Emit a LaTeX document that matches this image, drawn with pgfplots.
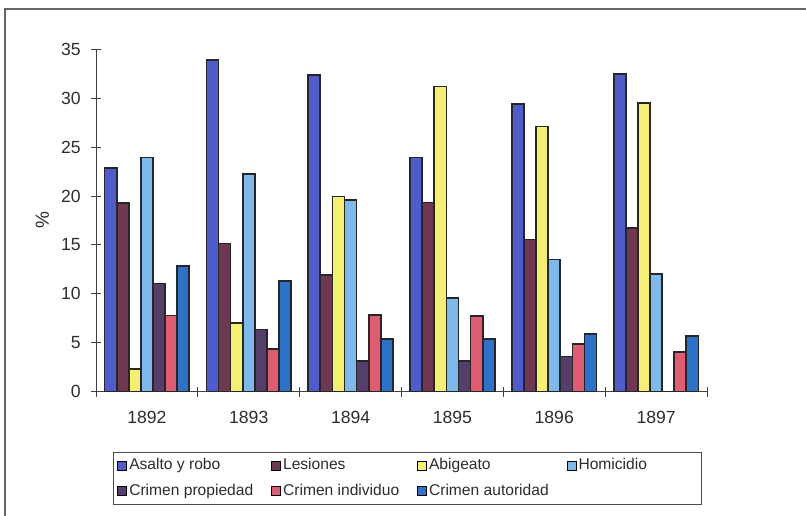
\documentclass[border=0pt]{standalone}
\usepackage{fontspec}
\setmainfont{Liberation Sans}
\usepackage{pgfplots}
\usepackage{pgfplotstable}
\pgfplotsset{compat=1.18}

\definecolor{cAsalto}{RGB}{78,92,205}
\definecolor{cLesiones}{RGB}{112,55,80}
\definecolor{cAbigeato}{RGB}{246,240,112}
\definecolor{cHomicidio}{RGB}{125,185,235}
\definecolor{cPropiedad}{RGB}{86,62,106}
\definecolor{cIndividuo}{RGB}{225,92,112}
\definecolor{cAutoridad}{RGB}{42,115,200}
\definecolor{cText}{RGB}{45,45,45}

% Porcentaje de cada tipo de delito por año (x = 0..5 -> 1892..1897)
\pgfplotstableread{
x asalto lesiones abigeato homicidio propiedad individuo autoridad
0 22.9  19.3  2.3   23.95 11.05 7.8  12.85
1 33.9  15.15 7.0   22.25 6.35  4.35 11.3
2 32.4  11.9  19.95 19.6  3.15  7.85 5.4
3 23.95 19.35 31.2  9.55  3.15  7.75 5.4
4 29.4  15.55 27.1  13.5  3.6   4.85 5.9
5 32.5  16.7  29.5  12.0  0     4.05 5.7
}\datos

\begin{document}
\begin{tikzpicture}
\useasboundingbox (-48pt,-61.65pt) rectangle (355pt,195.85pt);
% marco exterior del gráfico
\draw[black!60, line width=0.75pt] (-45.5pt,-62pt) -- (-45.5pt,191.35pt) -- (356pt,191.35pt);
\begin{axis}[
  at={(0pt,0pt)}, anchor=south west,
  scale only axis, width=305.5pt, height=171.2pt,
  xmin=-0.5, xmax=5.5, ymin=0, ymax=35,
  ybar=0pt, bar width=6.05pt,
  axis x line=bottom, axis y line=left,
  axis line style={-, black!75, line width=0.5pt},
  xtick={0,1,2,3,4,5},
  xticklabels={1892,1893,1894,1895,1896,1897},
  major x tick style={draw=none},
  minor xtick={-0.5,0.5,1.5,2.5,3.5,4.5,5.5},
  ytick={0,5,10,15,20,25,30,35},
  tick align=center, major tick length=5pt, minor tick length=5pt,
  tick style={black!75, line width=0.5pt},
  tick label style={font=\fontsize{8.8}{10}\selectfont, text=cText},
  xticklabel style={yshift=-3.5pt},
  yticklabel style={xshift=-1.6pt},
  /pgf/number format/assume math mode=true,
  ylabel={\%},
  ylabel style={at={(axis description cs:-0.088,0.5)}, anchor=center,
                font=\fontsize{9.5}{10}\selectfont, text=cText},
  legend columns=4,
  legend image code/.code={\draw[#1, draw=black, line width=0.5pt] (0pt,-2.2pt) rectangle (4.4pt,2.2pt);},
  legend style={at={(axis description cs:0.0278,-0.176)}, anchor=north west,
    draw=black!70, line width=0.5pt, inner xsep=2pt, inner ysep=1pt,
    font=\fontsize{7.8}{9}\selectfont, text=cText,
    nodes={inner xsep=1pt, inner ysep=2pt},
    row sep=1.6pt,
    /tikz/every even column/.append style={column sep=8pt}},
  legend cell align=left,
]
\addplot[draw=black!85, line width=0.85pt, fill=cAsalto]    table[x=x, y=asalto]    {\datos};
\addplot[draw=black!85, line width=0.85pt, fill=cLesiones]  table[x=x, y=lesiones]  {\datos};
\addplot[draw=black!85, line width=0.85pt, fill=cAbigeato]  table[x=x, y=abigeato]  {\datos};
\addplot[draw=black!85, line width=0.85pt, fill=cHomicidio] table[x=x, y=homicidio] {\datos};
\addplot[draw=black!85, line width=0.85pt, fill=cPropiedad] table[x=x, y=propiedad] {\datos};
\addplot[draw=black!85, line width=0.85pt, fill=cIndividuo] table[x=x, y=individuo] {\datos};
\addplot[draw=black!85, line width=0.85pt, fill=cAutoridad] table[x=x, y=autoridad] {\datos};
\legend{Asalto y robo, Lesiones, Abigeato, Homicidio\hspace*{24pt},
        Crimen propiedad, Crimen individuo, Crimen autoridad}
\end{axis}
\end{tikzpicture}
\end{document}
